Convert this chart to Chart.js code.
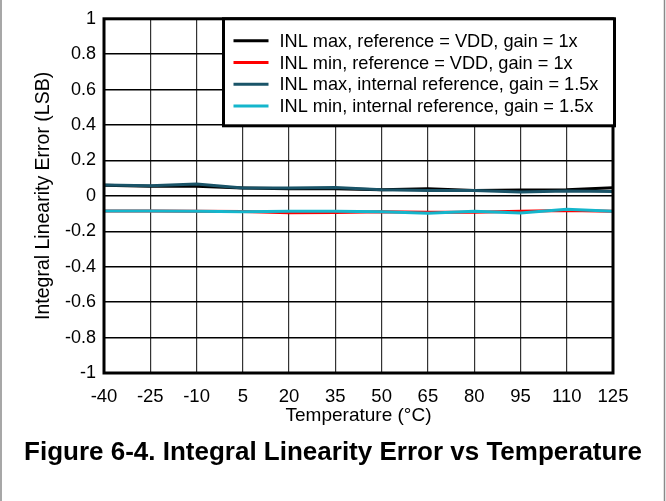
<!DOCTYPE html>
<html>
<head>
<meta charset="utf-8">
<script src="https://cdn.jsdelivr.net/npm/chart.js@4.4.1/dist/chart.umd.min.js"></script>
<style>
    html, body { margin: 0; padding: 0; background: #fff; }
    #wrap { width: 666px; height: 501px; position: relative; }
</style>
</head>
<body>
<div id="wrap"><canvas id="inlChart" width="666" height="501"></canvas></div>
<script>
// temperature sweep (°C) and INL readings (LSB)
const temps = [-40, -25, -10, 5, 20, 35, 50, 65, 80, 95, 110, 125];
const inlMaxVdd = [0.06, 0.055, 0.055, 0.045, 0.04, 0.04, 0.035, 0.04, 0.03, 0.033, 0.035, 0.046];
const inlMinVdd = [-0.085, -0.085, -0.087, -0.088, -0.095, -0.094, -0.089, -0.092, -0.093, -0.087, -0.083, -0.087];
const inlMaxInt = [0.062, 0.058, 0.067, 0.044, 0.044, 0.048, 0.035, 0.03, 0.03, 0.022, 0.028, 0.025];
const inlMinInt = [-0.085, -0.085, -0.086, -0.09, -0.087, -0.086, -0.089, -0.098, -0.087, -0.096, -0.076, -0.087];

const seriesNames = [
    "INL max, reference = VDD, gain = 1x",
    "INL min, reference = VDD, gain = 1x",
    "INL max, internal reference, gain = 1.5x",
    "INL min, internal reference, gain = 1.5x"
];
const seriesColors = ["#000000", "#ff0000", "#1a5468", "#14b6cc"];
const seriesValues = [inlMaxVdd, inlMinVdd, inlMaxInt, inlMinInt];
const caption = "Figure 6-4. Integral Linearity Error vs Temperature";

const FONT = "'Liberation Sans', Arial, sans-serif";

function toPoints(values) {
    return values.map((v, i) => ({ x: temps[i], y: v }));
}

// white page with thin grey side rules, frame around plot, boxed legend and caption
const framePlugin = {
    id: "frame",
    beforeDraw(chart) {
        const ctx = chart.ctx;
        ctx.save();
        ctx.fillStyle = "#fff";
        ctx.fillRect(0, 0, chart.width, chart.height);
        ctx.strokeStyle = "#8a8a8a";
        ctx.lineWidth = 1.5;
        ctx.beginPath();
        ctx.moveTo(1, 0); ctx.lineTo(1, chart.height);
        ctx.moveTo(chart.width - 1.5, 0); ctx.lineTo(chart.width - 1.5, chart.height);
        ctx.stroke();
        ctx.restore();
    },
    afterDraw(chart) {
        const ctx = chart.ctx;
        const area = chart.chartArea;
        ctx.save();
        ctx.strokeStyle = "#000";
        ctx.lineWidth = 3;
        ctx.strokeRect(area.left, area.top, area.right - area.left, area.bottom - area.top);

        // legend box in the top right corner
        const boxW = 391, boxH = 107;
        const bx = area.right + 1.5 - boxW;
        const by = area.top;
        ctx.fillStyle = "#fff";
        ctx.fillRect(bx, by, boxW, boxH);
        ctx.strokeRect(bx, by, boxW, boxH);
        ctx.font = "18.2px " + FONT;
        ctx.textBaseline = "middle";
        chart.data.datasets.forEach((ds, i) => {
            const y = by + 22 + i * 21.7;
            ctx.strokeStyle = ds.borderColor;
            ctx.lineWidth = 3;
            ctx.beginPath();
            ctx.moveTo(bx + 10, y);
            ctx.lineTo(bx + 45, y);
            ctx.stroke();
            ctx.fillStyle = "#000";
            ctx.fillText(ds.label, bx + 56, y + 1);
        });

        // figure caption, centred on the page
        ctx.fillStyle = "#000";
        ctx.font = "bold 26px " + FONT;
        ctx.textAlign = "center";
        ctx.textBaseline = "alphabetic";
        ctx.fillText(caption, chart.width / 2, 460);
        ctx.restore();
    }
};

const chart = new Chart(document.getElementById("inlChart"), {
    type: "line",
    data: {
        datasets: seriesValues.map((vals, i) => ({
            label: seriesNames[i],
            data: toPoints(vals),
            borderColor: seriesColors[i],
            backgroundColor: seriesColors[i],
            borderWidth: 3,
            pointRadius: 0,
            tension: 0,
            order: 3 - i
        }))
    },
    options: {
        responsive: false,
        animation: false,
        layout: { padding: { left: 0, right: 53, top: 13, bottom: 74 } },
        plugins: {
            legend: { display: false },
            tooltip: { enabled: false },
            title: { display: false }
        },
        scales: {
            x: {
                type: "linear",
                min: -40,
                max: 125,
                afterFit(scale) { scale.height = 54; },
                ticks: {
                    stepSize: 15,
                    color: "#000",
                    padding: 13,
                    font: { family: FONT, size: 18.5 }
                },
                grid: { color: "#333", lineWidth: 1.2, drawTicks: false },
                border: { display: false },
                title: {
                    display: true,
                    text: "Temperature (°C)",
                    color: "#000",
                    font: { family: FONT, size: 19 },
                    padding: { top: 0, bottom: 0 }
                }
            },
            y: {
                min: -1,
                max: 1,
                afterFit(scale) { scale.width = 104; },
                ticks: {
                    stepSize: 0.2,
                    color: "#000",
                    padding: 8,
                    font: { family: FONT, size: 18 },
                    callback: (v) => String(Number(v.toFixed(1)))
                },
                grid: { color: "#000", lineWidth: 1.5, drawTicks: false },
                border: { display: false },
                title: {
                    display: true,
                    text: "Integral Linearity Error (LSB)",
                    color: "#000",
                    font: { family: FONT, size: 19.5 },
                    padding: { top: 32, bottom: 0 }
                }
            }
        }
    },
    plugins: [framePlugin]
});
</script>
</body>
</html>
